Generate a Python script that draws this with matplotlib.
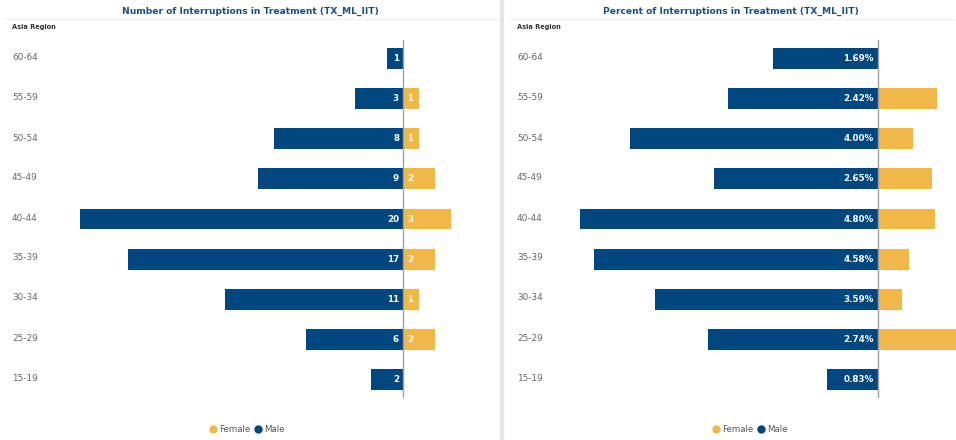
import matplotlib
matplotlib.use('Agg')
import matplotlib.pyplot as plt
from matplotlib.lines import Line2D

age_groups = ['60-64', '55-59', '50-54', '45-49', '40-44', '35-39', '30-34', '25-29', '15-19']

male_count = [1, 3, 8, 9, 20, 17, 11, 6, 2]
female_count = [0, 1, 1, 2, 3, 2, 1, 2, 0]

male_pct = [1.69, 2.42, 4.00, 2.65, 4.80, 4.58, 3.59, 2.74, 0.83]
female_pct = [0.0, 0.95, 0.56, 0.87, 0.92, 0.50, 0.39, 1.35, 0.0]

NAVY = '#00467f'
GOLD = '#f0b848'
TITLE_C = '#1f4e79'

W, H = 956, 440
fig = plt.figure(figsize=(W / 100, H / 100), dpi=100)
fig.patch.set_facecolor('white')


def px_axes(x0, x1, y0, y1):
    # axes placed by pixel box (top-left origin)
    return fig.add_axes([x0 / W, 1 - y1 / H, (x1 - x0) / W, (y1 - y0) / H])


def draw_panel(x0, x1, center, scale, male, female, male_labels, female_labels, title, leg_x):
    ax = px_axes(x0, x1, 40, 398)
    ax.set_xlim(-(center - x0) / scale, (x1 - center) / scale)
    ax.set_ylim(8.45, -0.45)
    ypos = range(len(age_groups))
    ax.barh(ypos, [-m for m in male], height=0.52, color=NAVY, zorder=2)
    ax.barh(ypos, female, height=0.52, color=GOLD, zorder=2)
    ax.axvline(0, color='#a0a0a0', linewidth=1, zorder=3)
    off = 4 / scale
    for i in ypos:
        if male_labels[i]:
            ax.text(-off, i, male_labels[i], ha='right', va='center', color='white',
                    fontsize=6.3, fontweight='bold', zorder=4)
        if female_labels[i]:
            ax.text(off, i, female_labels[i], ha='left', va='center', color='white',
                    fontsize=6.3, fontweight='bold', zorder=4)
    ax.axis('off')

    # category labels on the left edge of the panel
    for i, g in enumerate(age_groups):
        fig.text((x0 + 12) / W, 1 - (58 + 40 * i) / H, g, ha='left', va='center',
                 fontsize=6.4, color='#666666')

    fig.text((x0 + 12) / W, 1 - 27 / H, 'Asia Region', ha='left', va='center',
             fontsize=4.8, fontweight='bold', color='#333333')
    fig.text((x0 + x1) / 2 / W, 1 - 11 / H, title, ha='center', va='center',
             fontsize=6.6, fontweight='bold', color=TITLE_C)
    fig.add_artist(Line2D([(x0 + 4) / W, (x1 - 2) / W], [1 - 19 / H, 1 - 19 / H],
                          color='#f0f0f0', linewidth=1))

    # legend
    ly = 1 - 429 / H
    fig.add_artist(Line2D([leg_x / W], [ly], marker='o', markersize=5, color=GOLD,
                          linestyle='none'))
    fig.text((leg_x + 6) / W, ly, 'Female', ha='left', va='center', fontsize=6.2, color='#555555')
    fig.add_artist(Line2D([(leg_x + 45) / W], [ly], marker='o', markersize=5, color=NAVY,
                          linestyle='none'))
    fig.text((leg_x + 51) / W, ly, 'Male', ha='left', va='center', fontsize=6.2, color='#555555')


draw_panel(0, 500, 403, 16.15, male_count, female_count,
           [str(v) for v in male_count], [str(v) if v else '' for v in female_count],
           'Number of Interruptions in Treatment (TX_ML_IIT)', 213)

draw_panel(505, 956, 878, 62.0, male_pct, female_pct,
           [f'{v:.2f}%' for v in male_pct], [''] * len(female_pct),
           'Percent of Interruptions in Treatment (TX_ML_IIT)', 716)

# panel separator
fig.add_artist(Line2D([502 / W, 502 / W], [0, 1], color='#e6e6e6', linewidth=3))

fig.savefig('out.png', dpi=100)
